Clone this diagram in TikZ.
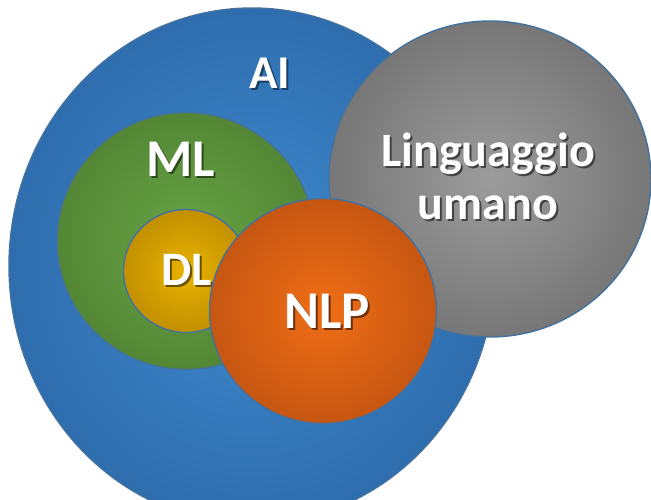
\documentclass[tikz,border=0pt]{standalone}
\usepackage{fontspec}
\setmainfont{Carlito}
\usetikzlibrary{shapes.geometric}
\definecolor{aiin}{HTML}{3F8BD0}
\definecolor{aiout}{HTML}{2E6DAE}
\definecolor{mlin}{HTML}{68A345}
\definecolor{mlout}{HTML}{538735}
\definecolor{dlin}{HTML}{E8B300}
\definecolor{dlout}{HTML}{C29000}
\definecolor{nlpin}{HTML}{F06E16}
\definecolor{nlpout}{HTML}{C65612}
\definecolor{luin}{HTML}{9C9C9C}
\definecolor{luout}{HTML}{777777}
\definecolor{edgeblue}{HTML}{44729F}
\newcommand\shtxt[2]{\leavevmode\rlap{\kern2pt\raisebox{-2pt}{\color{#1}#2}}#2}
\begin{document}
\begin{tikzpicture}[x=1pt,y=-1pt,
  zone/.style={ellipse, inner sep=0pt, outer sep=0pt, draw=edgeblue, line width=1.4pt},
  lbl/.style={text=white, inner sep=0pt, align=center,
    font=\bfseries\fontsize{#1}{53}\selectfont}]
\useasboundingbox (0,0) rectangle (651,500);
% AI
\node[zone, minimum width=486pt, minimum height=516pt, inner color=aiin, outer color=aiout] (ai) at (252,266) {};
\node[lbl=47] (ailbl) at (270,74) {\shtxt{aiout!55!black}{AI}};
% Linguaggio umano
\node[zone, minimum width=322pt, minimum height=316pt, inner color=luin, outer color=luout] (lu) at (490,179) {};
\node[lbl=48] (lulbl) at (488,177) {\shtxt{luout!55!black}{Linguaggio}\\\shtxt{luout!55!black}{umano}};
% ML
\node[zone, minimum width=258pt, minimum height=257pt, inner color=mlin, outer color=mlout] (ml) at (186,241) {};
\node[lbl=53] (mllbl) at (181,160) {\shtxt{mlout!55!black}{ML}};
% DL
\node[zone, minimum width=125pt, minimum height=123pt, inner color=dlin, outer color=dlout] (dl) at (186,271) {};
\node[lbl=48] (dllbl) at (187,271) {\shtxt{dlout!55!black}{DL}};
% NLP
\node[zone, minimum width=227pt, minimum height=225pt, inner color=nlpin, outer color=nlpout] (nlp) at (323,311) {};
\node[lbl=53] (nlplbl) at (327,312) {\shtxt{nlpout!55!black}{NLP}};
\end{tikzpicture}
\end{document}
